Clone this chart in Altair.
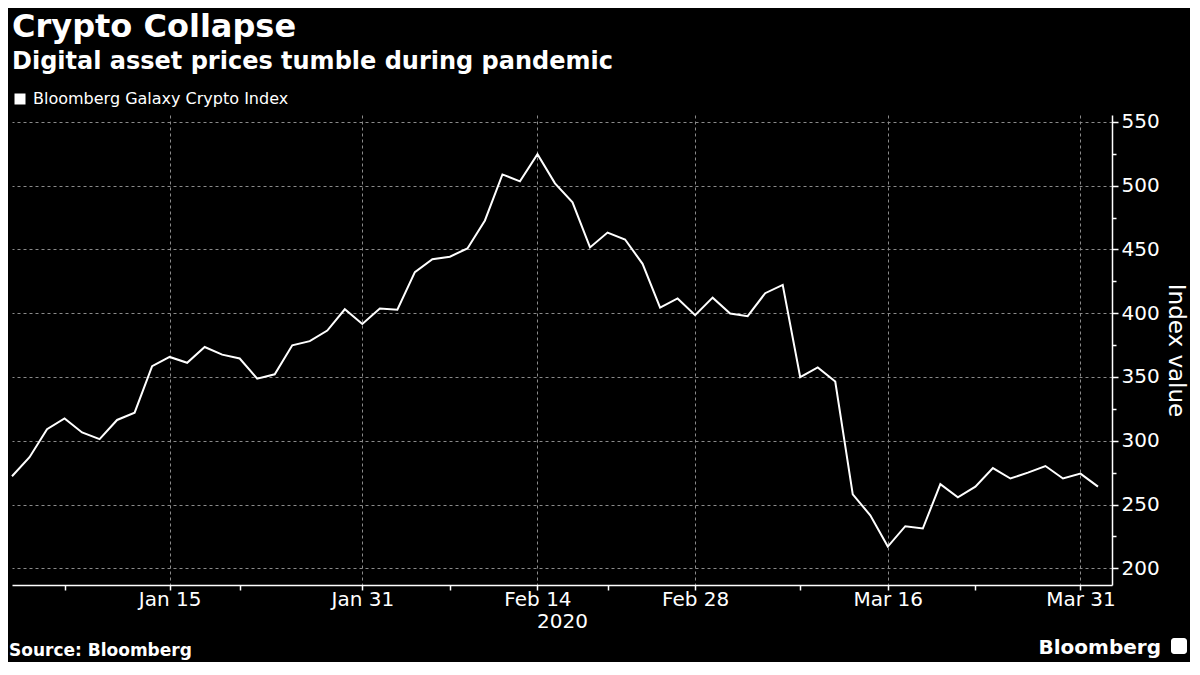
import altair as alt
import pandas as pd

# ---- data ----
dates = [
    "2020-01-02", "2020-01-03", "2020-01-06", "2020-01-07", "2020-01-08", "2020-01-09",
    "2020-01-10", "2020-01-13", "2020-01-14", "2020-01-15", "2020-01-16", "2020-01-17",
    "2020-01-21", "2020-01-22", "2020-01-23", "2020-01-24", "2020-01-27", "2020-01-28",
    "2020-01-29", "2020-01-30", "2020-01-31",
    "2020-02-03", "2020-02-04", "2020-02-05", "2020-02-06", "2020-02-07", "2020-02-10",
    "2020-02-11", "2020-02-12", "2020-02-13", "2020-02-14", "2020-02-18", "2020-02-19",
    "2020-02-20", "2020-02-21", "2020-02-24", "2020-02-25", "2020-02-26", "2020-02-27",
    "2020-02-28",
    "2020-03-02", "2020-03-03", "2020-03-04", "2020-03-05", "2020-03-06", "2020-03-09",
    "2020-03-10", "2020-03-11", "2020-03-12", "2020-03-13", "2020-03-16", "2020-03-17",
    "2020-03-18", "2020-03-19", "2020-03-20", "2020-03-23", "2020-03-24", "2020-03-25",
    "2020-03-26", "2020-03-27", "2020-03-30", "2020-03-31", "2020-04-01",
]
values = [
    272.2, 287.1, 309.0, 317.5, 306.5, 301.3, 316.3, 322.0, 358.5, 365.7, 361.1, 373.5,
    367.5, 364.5, 348.7, 352.1, 374.8, 378.1, 386.4, 403.1, 391.5,
    403.6, 402.7, 432.2, 442.3, 444.3, 450.8, 472.7, 508.8, 503.4, 524.7, 501.8, 486.9,
    451.6, 463.2, 457.8, 438.7, 404.4, 411.6, 398.5,
    412.2, 399.8, 397.7, 415.7, 422.2, 349.8, 357.5, 346.4, 258.0, 241.5, 217.0, 233.0,
    231.2, 266.0, 255.7, 264.0, 278.6, 270.4, 275.0, 280.2, 270.4, 274.2, 264.0,
]
series_name = "Bloomberg Galaxy Crypto Index"
major_idx = [9, 20, 30, 39, 50, 61]     # labelled trading days (with grid)
minor_idx = [3, 13, 25, 34, 45, 55]     # unlabelled ticks
y_ticks = [200, 225, 250, 275, 300, 325, 350, 375, 400, 425, 450, 475, 500, 525, 550]
x_title = "2020"
y_title = "Index value"
title_text = "Crypto Collapse"
subtitle_text = "Digital asset prices tumble during pandemic"
source_text = "Source: Bloomberg"
brand_text = "Bloomberg"

df = pd.DataFrame({
    "i": list(range(len(values))),
    "date": dates,
    "value": values,
    "series": [series_name] * len(values),
})

labels = []
for k in major_idx:
    ts = pd.Timestamp(dates[k])
    labels.append(ts.strftime("%b ") + str(ts.day))

W, H = 1100, 470
FONT = "DejaVu Sans"
GRID = "#8a8a8a"

maj_arr = "[" + ",".join(str(v) for v in major_idx) + "]"
lab_arr = "[" + ",".join("'" + s + "'" for s in labels) + "]"
x_label_expr = (f"indexof({maj_arr}, datum.value) >= 0 ? "
                f"{lab_arr}[indexof({maj_arr}, datum.value)] : ''")
x_major_test = f"indexof({maj_arr}, datum.value) >= 0"

x_axis = alt.Axis(
    values=sorted(major_idx + minor_idx),
    labelExpr=x_label_expr,
    title=x_title,
    grid=True,
    gridOpacity={"condition": {"test": x_major_test, "value": 1}, "value": 0},
    gridColor=GRID, gridDash=[3, 3], gridWidth=1,
    tickColor="white", tickSize=5, tickWidth=1.5,
    domainColor="white", domainWidth=1.5,
    labelColor="white", labelFont=FONT, labelFontSize=20, labelPadding=-1,
    labelOverlap=False, labelFlush=False,
    titleColor="white", titleFont=FONT, titleFontSize=20, titleFontWeight="normal",
    titlePadding=2,
)

y_major_test = "datum.value % 50 === 0"
y_axis = alt.Axis(
    orient="right",
    values=y_ticks,
    labelExpr=f"{y_major_test} ? datum.label : ''",
    title=y_title,
    grid=True,
    gridOpacity={"condition": {"test": y_major_test, "value": 1}, "value": 0},
    gridColor=GRID, gridDash=[3, 3], gridWidth=1,
    tickColor="white", tickWidth=1.5,
    tickSize={"condition": {"test": y_major_test, "value": 6}, "value": 4},
    domainColor="white", domainWidth=1.5,
    labelColor="white", labelFont=FONT, labelFontSize=20, labelPadding=3,
    labelOverlap=False, labelFlush=False,
    titleColor="white", titleFont=FONT, titleFontSize=23, titleFontWeight="normal",
    titleAngle=90, titlePadding=4,
)

line = alt.Chart(df).mark_line(strokeWidth=2).encode(
    x=alt.X("i:Q", scale=alt.Scale(domain=[0, 62.8], nice=False, zero=False), axis=x_axis),
    y=alt.Y("value:Q", scale=alt.Scale(domain=[186.9, 555.4], nice=False, zero=False), axis=y_axis),
    color=alt.Color(
        "series:N",
        scale=alt.Scale(domain=[series_name], range=["white"]),
        legend=alt.Legend(
            title=None, orient="none", legendX=0, legendY=-24,
            symbolType="square", symbolSize=121,
            symbolFillColor="white", symbolStrokeColor="white", symbolStrokeWidth=0,
            labelColor="white", labelFont=FONT, labelFontSize=16, labelOffset=5,
            labelLimit=0, padding=0,
        ),
    ),
)

source = alt.Chart(pd.DataFrame({"t": [source_text]})).mark_text(
    align="left", baseline="alphabetic", font=FONT, fontSize=17, fontWeight="bold",
    color="white",
).encode(text="t:N", x=alt.value(-3), y=alt.value(H + 71))

brand = alt.Chart(pd.DataFrame({"t": [brand_text]})).mark_text(
    align="right", baseline="alphabetic", font=FONT, fontSize=20, fontWeight="bold",
    color="white",
).encode(text="t:N", x=alt.value(W + 49), y=alt.value(H + 69))

icon = alt.Chart(pd.DataFrame({"t": [brand_text]})).mark_rect(
    color="white", cornerRadius=3,
).encode(x=alt.value(W + 59), x2=alt.value(W + 75), y=alt.value(H + 53), y2=alt.value(H + 69))

chart = alt.layer(line, source, brand, icon).properties(
    width=W, height=H,
    title=alt.TitleParams(
        text=title_text, subtitle=subtitle_text, anchor="start", frame="group",
        font=FONT, fontSize=32, fontWeight="bold", color="white",
        subtitleFont=FONT, subtitleFontSize=24, subtitleFontWeight="bold",
        subtitleColor="white", subtitlePadding=6, offset=16,
    ),
).configure(
    background="black",
    padding={"left": 0, "top": 3, "right": 3, "bottom": 3},
).configure_view(stroke=None)

chart.save("out.html", embed_options={"renderer": "svg", "actions": False})
